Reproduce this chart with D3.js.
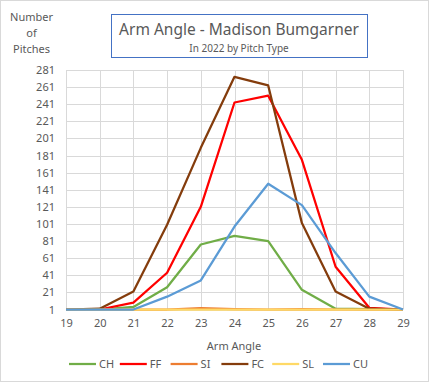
<!DOCTYPE html>
<html>
<head>
<meta charset="utf-8">
<script src="https://cdn.jsdelivr.net/npm/d3@7"></script>
<style>
  body { margin: 0; background: #fff; }
  text { font-family: "Noto Sans", "Open Sans", sans-serif; fill: #595959; }
</style>
</head>
<body>
<div class="chart-box"></div>
<script>
const angles = [19, 20, 21, 22, 23, 24, 25, 26, 27, 28, 29];
const yTicks = [1, 21, 41, 61, 81, 101, 121, 141, 161, 181, 201, 221, 241, 261, 281];

const pitchTypes = ["CH", "FF", "SI", "FC", "SL", "CU"];
const ch = [1, 1, 4, 27, 77, 87, 81, 24, 2, 1.5, 1];
const ff = [1, 1, 9, 44, 121, 243, 251, 176, 51, 3, 1];
const si = [1, 1, 1, 1, 2.5, 1.5, 1, 1.5, 1, 1, 1];
const fc = [1, 2, 22, 100, 190, 273, 263, 102, 22, 2, 1];
const sl = [1, 1, 1, 1, 1, 1, 1, 1, 1, 1, 1];
const cu = [1, 1, 1, 16, 35, 98, 148, 123, 67, 16, 1];
const seriesValues = [ch, ff, si, fc, sl, cu];
const colors = ["#70ad47", "#ff0000", "#ed7d31", "#843c0c", "#ffd966", "#5b9bd5"];

const width = 433, height = 384;
const margin = {top: 70, right: 30, bottom: 74, left: 66};

const svg = d3.select(".chart-box").append("svg")
  .attr("width", width)
  .attr("height", height);

// outer chart border
svg.append("rect")
  .attr("x", 0.5).attr("y", 0.5)
  .attr("width", 428).attr("height", 381)
  .attr("fill", "#fff")
  .attr("stroke", "#d9d9d9");

const xScale = d3.scaleLinear()
  .domain([19, 29])
  .range([margin.left, 403]);

const yScale = d3.scaleLinear()
  .domain([1, 281])
  .range([309.5, margin.top]);

// gridlines
svg.append("g")
  .selectAll("line.h")
  .data(yTicks)
  .enter().append("line")
  .attr("x1", xScale(19)).attr("x2", xScale(29))
  .attr("y1", d => Math.round(yScale(d)) + 0.5)
  .attr("y2", d => Math.round(yScale(d)) + 0.5)
  .attr("stroke", "#d9d9d9");

svg.append("g")
  .selectAll("line.v")
  .data(angles)
  .enter().append("line")
  .attr("y1", yScale(1)).attr("y2", yScale(281))
  .attr("x1", d => Math.round(xScale(d)) + 0.5)
  .attr("x2", d => Math.round(xScale(d)) + 0.5)
  .attr("stroke", "#d9d9d9");

// axes labels (no domain lines)
const yAxis = d3.axisLeft(yScale).tickValues(yTicks).tickSize(0).tickPadding(11);
const xAxis = d3.axisBottom(xScale).tickValues(angles).tickSize(0).tickPadding(10).tickFormat(d3.format("d"));

svg.append("g")
  .attr("transform", "translate(" + margin.left + ",0)")
  .call(yAxis)
  .call(g => g.select(".domain").remove())
  .selectAll("text")
  .attr("font-size", 11)
  .attr("font-family", null)
  .attr("fill", "#595959");

svg.append("g")
  .attr("transform", "translate(0," + yScale(1) + ")")
  .call(xAxis)
  .call(g => g.select(".domain").remove())
  .selectAll("text")
  .attr("font-size", 11)
  .attr("font-family", null)
  .attr("fill", "#595959");

// series lines
const line = d3.line()
  .x((d, i) => xScale(angles[i]))
  .y(d => yScale(d));

svg.append("g")
  .selectAll("path")
  .data(seriesValues)
  .enter().append("path")
  .attr("d", d => line(d))
  .attr("fill", "none")
  .attr("stroke", (d, i) => colors[i])
  .attr("stroke-width", 2.25)
  .attr("stroke-linejoin", "round");

// title box
svg.append("rect")
  .attr("x", 111.5).attr("y", 14.5)
  .attr("width", 256).attr("height", 43)
  .attr("fill", "#fff")
  .attr("stroke", "#4472c4");

svg.append("text")
  .attr("x", 239).attr("y", 35)
  .attr("text-anchor", "middle")
  .attr("font-size", 15.5)
  .text("Arm Angle - Madison Bumgarner");

svg.append("text")
  .attr("x", 239).attr("y", 51.5)
  .attr("text-anchor", "middle")
  .attr("font-size", 10)
  .text("In 2022 by Pitch Type");

// y axis title
const yTitle = ["Number", "of", "Pitches"];
svg.append("g")
  .selectAll("text")
  .data(yTitle)
  .enter().append("text")
  .attr("x", 31.5)
  .attr("y", (d, i) => 21 + i * 16)
  .attr("text-anchor", "middle")
  .attr("font-size", 11)
  .text(d => d);

// x axis title
svg.append("text")
  .attr("x", 234).attr("y", 350)
  .attr("text-anchor", "middle")
  .attr("font-size", 11)
  .text("Arm Angle");

// legend
const legend = svg.append("g")
  .selectAll("g")
  .data(pitchTypes)
  .enter().append("g")
  .attr("transform", (d, i) => "translate(" + (69 + i * 50.8) + ",364)");

legend.append("line")
  .attr("x1", 0).attr("x2", 27)
  .attr("stroke", (d, i) => colors[i])
  .attr("stroke-width", 2.25);

legend.append("text")
  .attr("x", 30).attr("y", 4)
  .attr("font-size", 11)
  .text(d => d);
</script>
</body>
</html>
